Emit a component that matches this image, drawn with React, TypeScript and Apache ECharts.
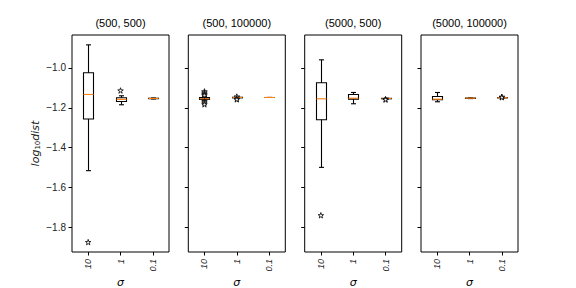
import React, { useEffect, useRef } from "react";
import * as echarts from "echarts";

const categories = ["10", "1", "0.1"];
const titles = ["(500, 500)", "(500, 100000)", "(5000, 500)", "(5000, 100000)"];
const yTicks = [-1.8, -1.6, -1.4, -1.2, -1.0];

// [whiskerLow, q1, median, q3, whiskerHigh] per sigma category
const boxes500_500 = [
  [-1.515, -1.2565, -1.1335, -1.025, -0.885],
  [-1.185, -1.1685, -1.158, -1.15, -1.14],
  [-1.156, -1.1545, -1.1535, -1.1525, -1.151],
];
const fliers500_500 = [[-1.873], [-1.1135], []];

const boxes500_100000 = [
  [-1.162, -1.158, -1.155, -1.149, -1.145],
  [-1.152, -1.1505, -1.1485, -1.1475, -1.146],
  [-1.1485, -1.1485, -1.1485, -1.1485, -1.1485],
];
const fliers500_100000 = [
  [-1.118, -1.125, -1.132, -1.138, -1.168, -1.175, -1.183],
  [-1.144, -1.155, -1.158],
  [],
];

const boxes5000_500 = [
  [-1.4985, -1.26, -1.155, -1.075, -0.96],
  [-1.18, -1.157, -1.152, -1.1335, -1.1235],
  [-1.156, -1.155, -1.1535, -1.153, -1.152],
];
const fliers5000_500 = [[-1.7385], [], [-1.157, -1.159]];

const boxes5000_100000 = [
  [-1.17, -1.16, -1.157, -1.1435, -1.1235],
  [-1.154, -1.1535, -1.152, -1.1515, -1.151],
  [-1.151, -1.1505, -1.15, -1.1495, -1.149],
];
const fliers5000_100000 = [[], [], [-1.145, -1.1475]];

const panelBoxes = [boxes500_500, boxes500_100000, boxes5000_500, boxes5000_100000];
const panelFliers = [fliers500_500, fliers500_100000, fliers5000_500, fliers5000_100000];

const STAR =
  "path://M50,0 L61,35 L98,35 L68,57 L79,91 L50,70 L21,91 L32,57 L2,35 L39,35 Z";

const FONT = "Liberation Sans";

export default function App() {
  const ref = useRef<HTMLDivElement>(null);
  useEffect(() => {
    if (!ref.current) return;
    const chart = echarts.init(ref.current, null, { renderer: "svg" });
    const lefts = [72, 188.3, 304.7, 421];
    const gw = 97;
    const grids = lefts.map((l) => ({
      left: l,
      top: 35,
      width: gw,
      height: 217,
      show: true,
      borderColor: "#000",
      borderWidth: 1,
      backgroundColor: "transparent",
      outerBoundsMode: "none",
      containLabel: false,
    }));
    const xAxes = lefts.map((_, i) => ({
      type: "category",
      gridIndex: i,
      data: categories,
      boundaryGap: true,
      axisLine: { show: false },
      axisTick: { show: true, alignWithLabel: true, length: 3.5, lineStyle: { color: "#000" } },
      axisLabel: {
        rotate: 90,
        margin: 7,
        fontSize: 9,
        fontStyle: "italic",
        fontFamily: FONT,
        color: "#222",
      },
      name: "σ",
      nameLocation: "middle",
      nameGap: 25,
      nameMoveOverlap: false,
      nameTextStyle: { fontSize: 11, fontStyle: "italic", fontFamily: "DejaVu Sans", color: "#000" },
      splitLine: { show: false },
    }));
    const yAxes = lefts.map((_, i) => ({
      type: "value",
      gridIndex: i,
      min: -1.9224,
      max: -0.8356,
      axisLine: { show: false },
      splitLine: { show: false },
      axisTick: {
        show: true,
        length: 3.5,
        customValues: yTicks,
        lineStyle: { color: "#000" },
      },
      axisLabel: {
        show: i === 0,
        customValues: yTicks,
        fontSize: 10,
        fontFamily: FONT,
        color: "#222",
        margin: 6,
        formatter: (v: number) => "\u2212" + Math.abs(v).toFixed(1),
      },
      name: i === 0 ? "{a|log}{b|10}{a|dist}" : "",
      nameLocation: "middle",
      nameGap: 31,
      nameRotate: 90,
      nameMoveOverlap: false,
      nameTextStyle: {
        color: "#000",
        rich: {
          a: { fontSize: 11, fontStyle: "italic", fontFamily: "DejaVu Sans", color: "#222" },
          b: { fontSize: 7, fontFamily: "DejaVu Sans", color: "#222", padding: [5, 0, 0, 0] },
        },
      },
    }));
    const series: any[] = [];
    panelBoxes.forEach((boxes, i) => {
      series.push({
        type: "custom",
        xAxisIndex: i,
        yAxisIndex: i,
        encode: { x: 0, y: [1, 2, 3, 4, 5] },
        data: boxes.map((b, k) => [k, ...b]),
        renderItem: (params: any, api: any) => {
          const k = api.value(0);
          const lo = api.coord([k, api.value(1)]);
          const q1 = api.coord([k, api.value(2)]);
          const md = api.coord([k, api.value(3)]);
          const q3 = api.coord([k, api.value(4)]);
          const hi = api.coord([k, api.value(5)]);
          const cx = Math.round(lo[0]) + 0.5;
          const bw = 5;
          const cw = 2.5;
          const st = { stroke: "#000", lineWidth: 1.1, fill: "none" };
          return {
            type: "group",
            children: [
              { type: "line", shape: { x1: cx, y1: lo[1], x2: cx, y2: q1[1] }, style: st },
              { type: "line", shape: { x1: cx, y1: q3[1], x2: cx, y2: hi[1] }, style: st },
              { type: "line", shape: { x1: cx - cw, y1: lo[1], x2: cx + cw, y2: lo[1] }, style: st },
              { type: "line", shape: { x1: cx - cw, y1: hi[1], x2: cx + cw, y2: hi[1] }, style: st },
              {
                type: "rect",
                shape: { x: cx - bw, y: q3[1], width: bw * 2, height: q1[1] - q3[1] },
                style: st,
              },
              {
                type: "line",
                shape: { x1: cx - bw, y1: md[1], x2: cx + bw, y2: md[1] },
                style: { stroke: "#ff7f0e", lineWidth: 1.1 },
              },
            ],
          };
        },
        z: 2,
      });
      const pts: any[] = [];
      panelFliers[i].forEach((arr, k) => arr.forEach((v) => pts.push([k, v])));
      series.push({
        type: "scatter",
        xAxisIndex: i,
        yAxisIndex: i,
        data: pts,
        symbol: STAR,
        symbolSize: 5.5,
        itemStyle: { color: "#fff", borderColor: "#000", borderWidth: 1 },
        z: 3,
      });
    });
    chart.setOption({
      animation: false,
      backgroundColor: "#fff",
      graphic: titles.map((t, i) => ({
        type: "text",
        x: lefts[i] + gw / 2,
        y: 23,
        style: {
          text: t,
          align: "center",
          verticalAlign: "middle",
          fontSize: 11,
          fontFamily: FONT,
          fill: "#000",
        },
      })),
      grid: grids,
      xAxis: xAxes,
      yAxis: yAxes,
      series,
    });
    return () => chart.dispose();
  }, []);
  return <div ref={ref} style={{ width: 576, height: 288, position: "absolute", left: 0, top: 0 }} />;
}
